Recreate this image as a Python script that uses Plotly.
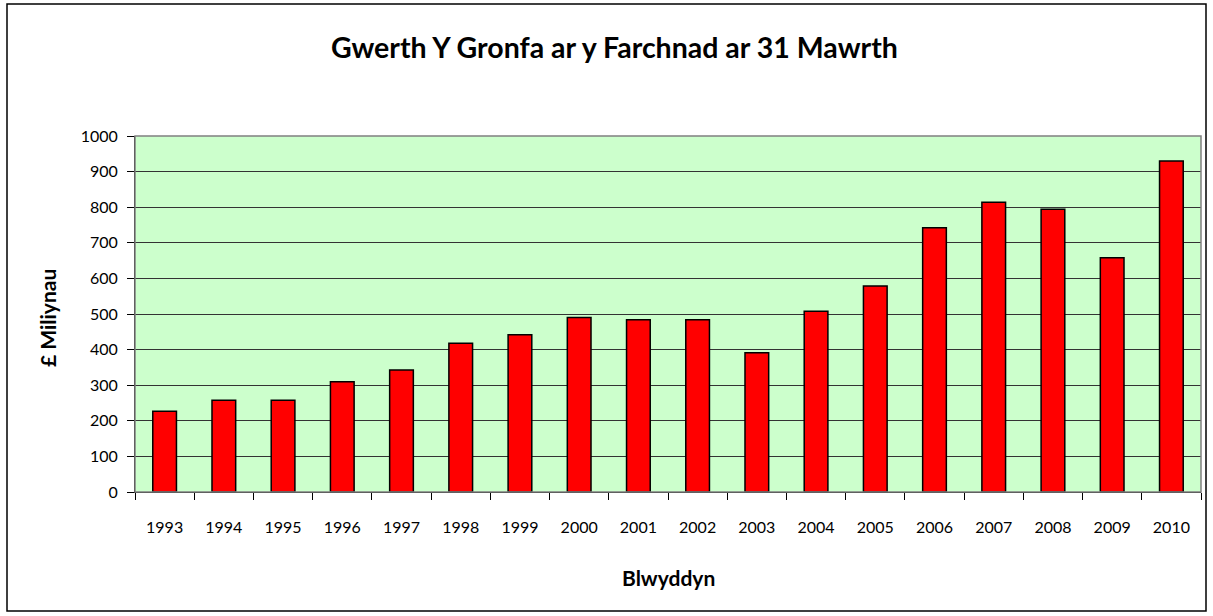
import plotly.graph_objects as go

years = ["1993", "1994", "1995", "1996", "1997", "1998", "1999", "2000", "2001",
         "2002", "2003", "2004", "2005", "2006", "2007", "2008", "2009", "2010"]
values = [227, 258, 258, 310, 343, 418, 442, 490, 484,
          484, 391, 508, 579, 742, 814, 794, 658, 930]
y_ticks = [0, 100, 200, 300, 400, 500, 600, 700, 800, 900, 1000]

title_text = "Gwerth Y Gronfa ar y Farchnad ar 31 Mawrth"
x_title = "Blwyddyn"
y_title = "£ Miliynau"

W, H = 1213, 616
L, R, T, B = 135, 12, 136, 124
pw = W - L - R
ph = H - T - B

def px_x(p):
    return (p - L) / pw

def px_y(p):
    return (H - B - p) / ph

FONT = "Lato"

fig = go.Figure(go.Bar(
    x=years, y=values,
    marker=dict(color="#FF0000", line=dict(color="#000000", width=1.5)),
    width=0.4,
))

fig.update_layout(
    width=W, height=H,
    margin=dict(l=L, r=R, t=T, b=B),
    paper_bgcolor="white",
    plot_bgcolor="#CCFFCC",
    showlegend=False,
    font=dict(family=FONT, color="#000000", size=16),
    bargap=0.6,
)

fig.update_xaxes(
    type="category",
    tickson="boundaries",
    ticks="outside", ticklen=7, tickcolor="#000000", tickwidth=1,
    showline=True, linecolor="#000000", linewidth=1,
    showgrid=False,
    ticklabelstandoff=21,
    tickfont=dict(family=FONT, size=16),
)
fig.update_yaxes(
    range=[0, 1000],
    tickvals=y_ticks,
    ticks="outside", ticklen=7, tickcolor="#000000", tickwidth=1,
    showline=True, linecolor="#000000", linewidth=1,
    showgrid=True, gridcolor="#333333", gridwidth=1,
    zeroline=False,
    ticklabelstandoff=6,
    tickfont=dict(family=FONT, size=16),
)

# plot-area border (top/right gray)
fig.add_shape(type="rect", xref="paper", yref="paper", x0=0, x1=1, y0=0, y1=1,
              line=dict(color="#808080", width=1.5), layer="above")
# outer chart border
fig.add_shape(type="rect", xref="paper", yref="paper",
              x0=px_x(7), x1=px_x(1206), y0=px_y(611), y1=px_y(4),
              line=dict(color="#000000", width=1.5))

fig.add_annotation(text="<b>" + title_text + "</b>", xref="paper", yref="paper",
                   x=px_x(614), y=px_y(47), showarrow=False,
                   font=dict(family=FONT, size=28.5), xanchor="center", yanchor="middle")
fig.add_annotation(text="<b>" + x_title + "</b>", xref="paper", yref="paper",
                   x=px_x(668), y=px_y(577), showarrow=False,
                   font=dict(family=FONT, size=21), xanchor="center", yanchor="middle")
fig.add_annotation(text="<b>" + y_title + "</b>", xref="paper", yref="paper",
                   x=px_x(47), y=px_y(318), showarrow=False, textangle=-90,
                   font=dict(family=FONT, size=21), xanchor="center", yanchor="middle")

fig.write_html("out.html", config={"displayModeBar": False},
               post_script="document.body.style.margin='0';")
